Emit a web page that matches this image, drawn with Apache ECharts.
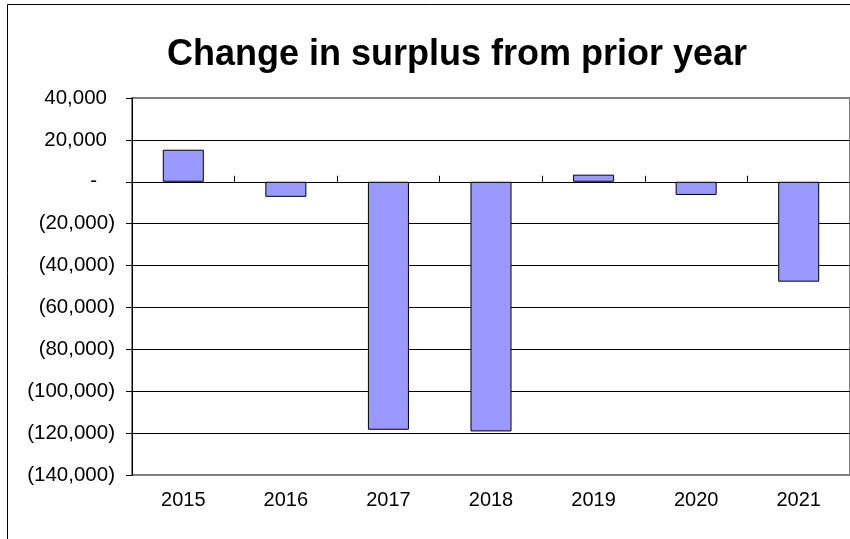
<!DOCTYPE html>
<html>
<head>
<meta charset="utf-8">
<script src="https://cdn.jsdelivr.net/npm/echarts@6/dist/echarts.min.js"></script>
<style>
  html, body { margin: 0; padding: 0; background: #fff; }
  #chart { width: 850px; height: 539px; }
</style>
</head>
<body>
<div id="chart"></div>
<script>
// Year-over-year change in surplus
var categories = ['2015', '2016', '2017', '2018', '2019', '2020', '2021'];
var surplusChange = [15300, -7200, -118400, -119200, 3400, -6300, -47700];
var yMin = -140000;
var yMax = 40000;
var yStep = 20000;

var FONT = '"Liberation Sans", Arial, sans-serif';
var Y_FONT_SIZE = 20.5;

function thousands(n) {
  return Math.abs(n).toString().replace(/\B(?=(\d{3})+(?!\d))/g, ',');
}

// accounting-style labels: negatives in parentheses, zero as a dash
function accounting(v) {
  if (v > 0) return '{p|' + thousands(v) + '}';
  if (v === 0) return '{z|-}';
  return '{n|(' + thousands(v) + ')}';
}

function richStyle(pad) {
  return { fontSize: Y_FONT_SIZE, fontFamily: FONT, color: '#000', padding: [0, pad, 0, 0] };
}

var chart = echarts.init(document.getElementById('chart'), null, { renderer: 'canvas' });
chart.setOption({
  animation: false,
  backgroundColor: '#fff',
  graphic: [{
    type: 'rect',
    z: -10,
    shape: { x: 7.5, y: 4.5, width: 900, height: 600 },
    style: { fill: 'none', stroke: '#000', lineWidth: 1 }
  }],
  title: {
    text: 'Change in surplus from prior year',
    left: 162,
    top: 32,
    textStyle: { fontFamily: FONT, fontWeight: 'bold', fontSize: 36, color: '#000' }
  },
  grid: {
    left: 132, right: -1, top: 98, bottom: 64,
    show: true,
    borderColor: '#808080',
    borderWidth: 2,
    backgroundColor: 'transparent'
  },
  xAxis: [{
    type: 'category',
    data: categories,
    position: 'bottom',
    axisLine: { show: false, onZero: false },
    axisTick: { show: false },
    axisLabel: { margin: 15, fontSize: 20, fontFamily: FONT, color: '#000' }
  }, {
    type: 'category',
    data: categories,
    axisLine: { show: true, onZero: true, lineStyle: { color: '#000', width: 1 } },
    axisTick: { show: true, inside: false, length: 6, lineStyle: { color: '#000' } },
    axisLabel: { show: false },
    splitLine: { show: false }
  }],
  yAxis: {
    type: 'value',
    min: yMin,
    max: yMax,
    interval: yStep,
    axisLine: { show: true, lineStyle: { color: '#000', width: 1 } },
    axisTick: { show: true, length: 6, lineStyle: { color: '#000' } },
    splitLine: { show: true, showMinLine: false, showMaxLine: false, lineStyle: { color: '#000', width: 1 } },
    axisLabel: {
      margin: 17,
      formatter: accounting,
      fontSize: Y_FONT_SIZE,
      fontFamily: FONT,
      color: '#000',
      rich: {
        p: richStyle(8),
        z: richStyle(18),
        n: richStyle(0)
      }
    }
  },
  series: [{
    type: 'bar',
    xAxisIndex: 0,
    data: surplusChange,
    barWidth: '40%',
    itemStyle: { color: '#9999FF', borderColor: '#000', borderWidth: 1 }
  }]
});
</script>
</body>
</html>
